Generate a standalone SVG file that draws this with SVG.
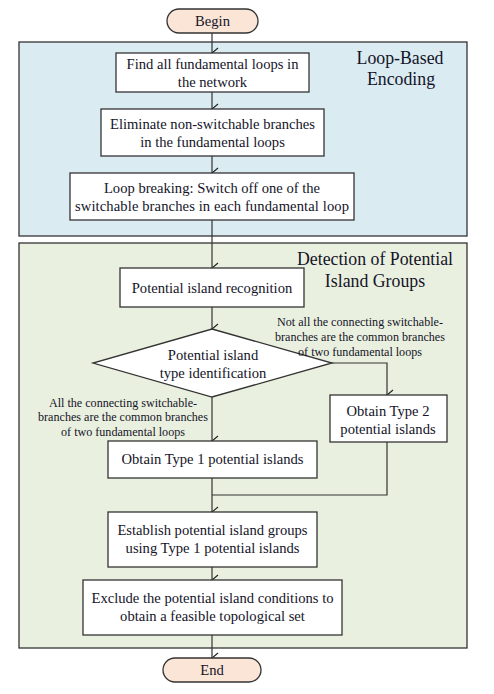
<svg xmlns="http://www.w3.org/2000/svg" width="494" height="694" viewBox="0 0 494 694">
<defs>
<marker id="arr" viewBox="0 0 12 12" refX="6" refY="11" markerWidth="12" markerHeight="12" markerUnits="userSpaceOnUse" orient="auto-start-reverse">
<path d="M1,5 L6,11 L11,5" fill="none" stroke="#222" stroke-width="1.1"/>
</marker>
<style>
text{font-family:"Liberation Serif","Times New Roman",serif;fill:#141428;text-anchor:middle}
.box{fill:#fff;stroke:#333;stroke-width:1.3}
.term{fill:#fbe5d6;stroke:#333;stroke-width:1.3}
.t{font-size:14.6px}
.h{font-size:17.8px}
.l{font-size:12.1px}
.c{fill:none;stroke:#333;stroke-width:1.2}
.ca{fill:none;stroke:#333;stroke-width:1.2;marker-end:url(#arr)}
</style>
</defs>
<rect id="panel-loop" x="19" y="42" width="448" height="194" fill="#daebf2" stroke="#333" stroke-width="1.3"/>
<rect id="panel-detect" x="19" y="243" width="448" height="405" fill="#eaf0df" stroke="#333" stroke-width="1.3"/>
<text class="h" x="400" y="64">Loop-Based</text>
<text class="h" x="401" y="85">Encoding</text>
<text class="h" x="375" y="265">Detection of Potential</text>
<text class="h" x="375" y="287">Island Groups</text>

<g id="connectors">
<path class="ca" d="M212,33 V53"/>
<path class="ca" d="M212,92 V109"/>
<path class="ca" d="M212,156 V173"/>
<path class="ca" d="M212,220 V268"/>
<path class="ca" d="M212,307 V329"/>
<path class="ca" d="M212,397 V441"/>
<path class="ca" d="M332,363 H387 V395"/>
<path class="c" d="M387,442 V495 H212"/>
<path class="ca" d="M212,478 V512"/>
<path class="ca" d="M212,567 V580"/>
<path class="ca" d="M212,635 V658"/>
</g>

<g id="begin"><rect class="term" x="167" y="9" width="91" height="24" rx="12"/><text class="t" x="212.5" y="26">Begin</text></g>
<g id="find"><rect class="box" x="116" y="53" width="193" height="39"/><text class="t" x="212.5" y="69">Find all fundamental loops in</text><text class="t" x="212.5" y="87">the network</text></g>
<g id="eliminate"><rect class="box" x="101" y="109" width="223" height="47"/><text class="t" x="212.5" y="129">Eliminate non-switchable branches</text><text class="t" x="212.5" y="147">in the fundamental loops</text></g>
<g id="breaking"><rect class="box" x="70" y="173" width="284" height="47"/><text class="t" x="212" y="193">Loop breaking: Switch off one of the</text><text class="t" x="212" y="211" textLength="274">switchable branches in each fundamental loop</text></g>
<g id="recognition"><rect class="box" x="120" y="268" width="184" height="39"/><text class="t" x="212" y="293">Potential island recognition</text></g>
<g id="identify"><path class="box" d="M212,329 L332,363 L212,397 L93,363 Z"/><text class="t" x="213" y="360">Potential island</text><text class="t" x="213" y="378">type identification</text></g>
<g id="label-right"><text class="l" x="360" y="326">Not all the connecting switchable-</text><text class="l" x="360" y="341">branches are the common branches</text><text class="l" x="360" y="356">of two fundamental loops</text></g>
<g id="label-left"><text class="l" x="123" y="407">All the connecting switchable-</text><text class="l" x="123" y="421">branches are the common branches</text><text class="l" x="123" y="436">of two fundamental loops</text></g>
<g id="type2"><rect class="box" x="330" y="395" width="117" height="47"/><text class="t" x="388" y="416">Obtain Type 2</text><text class="t" x="388" y="434">potential islands</text></g>
<g id="type1"><rect class="box" x="108" y="441" width="209" height="37"/><text class="t" x="212.5" y="464">Obtain Type 1 potential islands</text></g>
<g id="establish"><rect class="box" x="108" y="512" width="209" height="55"/><text class="t" x="212.5" y="535">Establish potential island groups</text><text class="t" x="212.5" y="553">using Type 1 potential islands</text></g>
<g id="exclude"><rect class="box" x="83" y="580" width="259" height="55"/><text class="t" x="212.5" y="603">Exclude the potential island conditions to</text><text class="t" x="212.5" y="621">obtain a feasible topological set</text></g>
<g id="end"><rect class="term" x="163" y="658" width="98" height="24" rx="12"/><text class="t" x="212" y="675">End</text></g>
</svg>
